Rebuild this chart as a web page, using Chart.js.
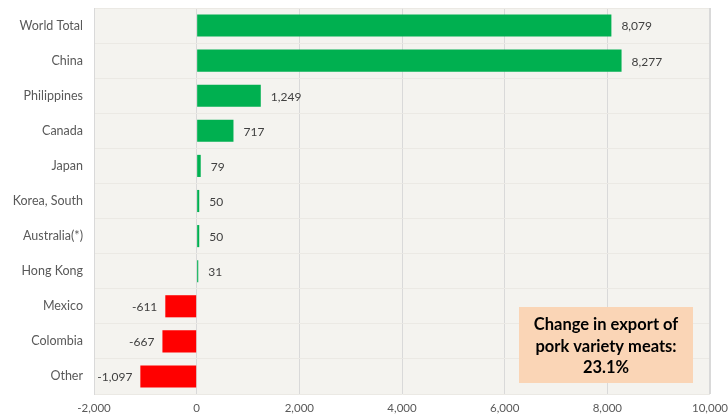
<!DOCTYPE html>
<html><head><meta charset="utf-8">
<script src="https://cdn.jsdelivr.net/npm/chart.js@4"></script>
<style>html,body{margin:0;padding:0;background:#fff;}#wrap{width:728px;height:417px;}</style>
</head><body><div id="wrap"><canvas id="c" width="728" height="417"></canvas></div>
<script>
const categories = ["World Total","China","Philippines","Canada","Japan","Korea, South","Australia(*)","Hong Kong","Mexico","Colombia","Other"];
const changeValues = [8079, 8277, 1249, 717, 79, 50, 50, 31, -611, -667, -1097];
const xTicks = [-2000, 0, 2000, 4000, 6000, 8000, 10000];
const noteLines = ["Change in export of", "pork variety meats:", "23.1%"];

const FONT = "Lato, 'Open Sans', sans-serif";
const fmt = v => v.toLocaleString('en-US');

const bgPlugin = {
  id: 'bg',
  beforeDraw(chart) {
    const {ctx} = chart;
    const x = chart.scales.x, y = chart.scales.y;
    const l = x.getPixelForValue(xTicks[0]), r = x.getPixelForValue(xTicks[xTicks.length - 1]);
    ctx.save(); ctx.fillStyle = '#f4f3ef';
    ctx.fillRect(l, y.top, r - l, y.bottom - y.top);
    ctx.restore();
  },
  beforeDatasetsDraw(chart) {
    const {ctx} = chart;
    const x = chart.scales.x, y = chart.scales.y;
    const r = Math.round(x.getPixelForValue(xTicks[xTicks.length - 1])) - 0.5;
    ctx.save(); ctx.strokeStyle = '#d9d9d9'; ctx.lineWidth = 1;
    ctx.beginPath(); ctx.moveTo(r, y.top); ctx.lineTo(r, y.bottom); ctx.stroke();
    ctx.restore();
  }
};
const labelPlugin = {
  id: 'vals',
  afterDatasetsDraw(chart) {
    const {ctx} = chart;
    const meta = chart.getDatasetMeta(0);
    ctx.save();
    ctx.font = "12px " + FONT; ctx.fillStyle = '#404040'; ctx.textBaseline = 'middle';
    meta.data.forEach((bar, i) => {
      const v = changeValues[i];
      if (v >= 0) { ctx.textAlign = 'left'; ctx.fillText(fmt(v), bar.x + 10, bar.y + 1); }
      else { ctx.textAlign = 'right'; ctx.fillText(fmt(v), bar.x - 8, bar.y + 1); }
    });
    ctx.restore();
  }
};
const notePlugin = {
  id: 'note',
  afterDraw(chart) {
    const {ctx} = chart;
    const x = 519, y = 307, w = 174, h = 76;
    ctx.save();
    ctx.fillStyle = '#fad5b6'; ctx.fillRect(x, y, w, h);
    ctx.fillStyle = '#000'; ctx.font = "bold 16.5px " + FONT;
    ctx.textAlign = 'center'; ctx.textBaseline = 'middle';
    noteLines.forEach((t, i) => ctx.fillText(t, x + w / 2, y + 18 + i * 21.5));
    ctx.restore();
  }
};

new Chart(document.getElementById('c'), {
  type: 'bar',
  data: {
    labels: categories,
    datasets: [{
      data: changeValues,
      backgroundColor: changeValues.map(v => v >= 0 ? '#00b050' : '#ff0000'),
      barPercentage: 0.63, categoryPercentage: 1.0, borderWidth: 0
    }]
  },
  options: {
    indexAxis: 'y', responsive: false, animation: false,
    layout: { padding: { top: 8, right: 18, left: 0, bottom: 0 } },
    plugins: { legend: { display: false }, tooltip: { enabled: false } },
    scales: {
      x: {
        min: -2000, max: 10000,
        afterBuildTicks: s => { s.ticks = xTicks.map(v => ({value: v})); },
        afterFit: s => { s.height = 23; s.paddingLeft = 0; s.paddingRight = 0; },
        grid: { color: '#d9d9d9', drawTicks: false, lineWidth: 1 },
        border: { display: false },
        ticks: { callback: v => fmt(v), color: '#595959', font: { family: FONT, size: 11.5 }, padding: 7, maxRotation: 0 }
      },
      y: {
        afterFit: s => { s.width = 94; s.paddingTop = 0; s.paddingBottom = 0; },
        grid: { color: '#ebe9e4', drawTicks: false, offset: true },
        border: { display: true, color: '#d9d9d9' },
        ticks: { color: '#595959', font: { family: FONT, size: 12.5 }, padding: 11 }
      }
    }
  },
  plugins: [bgPlugin, labelPlugin, notePlugin]
});
</script></body></html>
